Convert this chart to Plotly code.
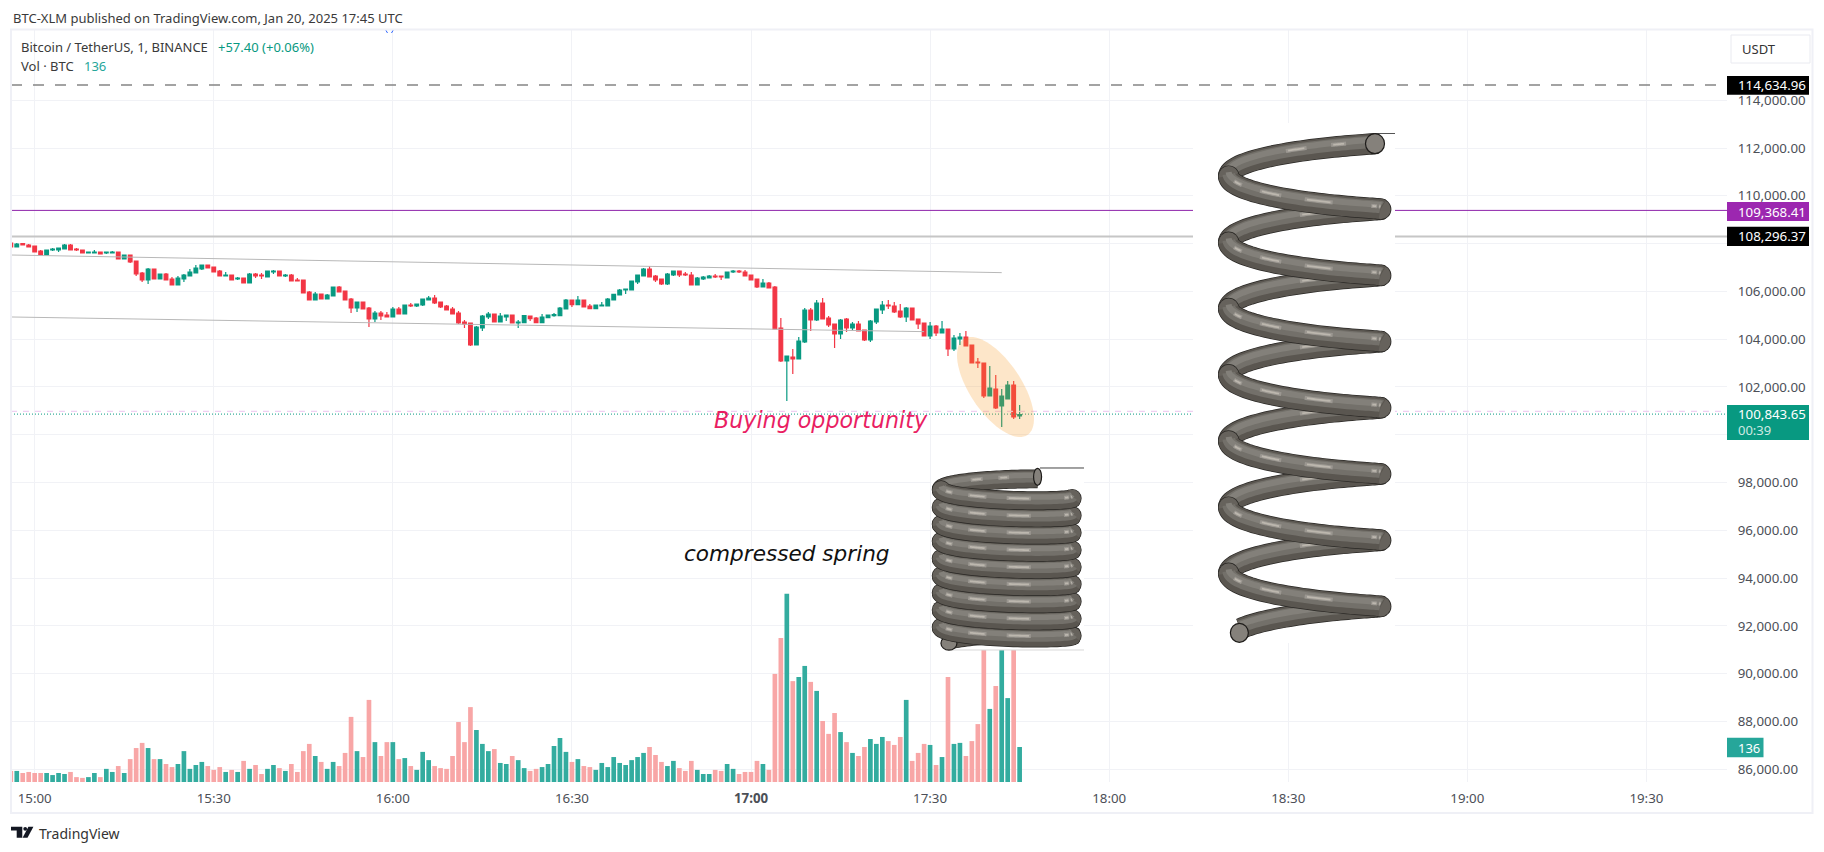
import numpy as np
import pandas as pd
import plotly.graph_objects as go

# the page puts the figure 8px in from the corner, positions below are window pixels
W, H = 1816, 844
OFFSET = 8
FONT = "Noto Sans"
GREEN = "#089981"
RED = "#f23645"
VOL_GREEN = "#33ac9f"
VOL_RED = "#f8a6a6"
GRID = "#f1f2f6"

opens = [108025, 107858, 107998, 107942, 107900, 107691, 107523, 107733, 107733, 107774,
         107942, 107774, 107733, 107607, 107607, 107649, 107607, 107607, 107649, 107356,
         107523, 107272, 106770, 106477, 106937, 106519, 106728, 106519, 106268, 106519,
         106644, 106770, 106937, 107105, 107021, 106854, 106644, 106686, 106519, 106561,
         106351, 106728, 106686, 106602, 106812, 106854, 106644, 106686, 106477, 106477,
         105975, 105640, 105891, 105682, 105807, 106184, 106017, 105682, 105305, 105556,
         105305, 104845, 105096, 105012, 104928, 105263, 105054, 105431, 105389, 105431,
         105640, 105724, 105556, 105389, 105263, 105096, 104719, 104677, 103757, 104468,
         104928, 105054, 104719, 104928, 105012, 104677, 104691, 104970, 104887, 104691,
         104901, 104984, 104984, 105263, 105640, 105445, 105640, 105389, 105277, 105389,
         105389, 105640, 105849, 106058, 106058, 106393, 106644, 106937, 106644, 106519,
         106310, 106686, 106854, 106728, 106686, 106268, 106519, 106561, 106644, 106644,
         106561, 106812, 106854, 106812, 106686, 106519, 106184, 106351, 106184, 104468,
         103087, 103254, 103171, 103882, 105221, 104803, 105514, 104887, 104635, 104217,
         104845, 104468, 104635, 104384, 103966, 104719, 105221, 105431, 105389, 105179,
         104928, 105305, 104845, 104677, 104133, 104552, 104259, 104426, 103589, 104008,
         104091, 103757, 103045, 103003, 101622, 101915, 101204, 101497, 102083, 100786.25]
highs = [108025, 108025, 108025, 107984, 107900, 107733, 107733, 107816, 107816, 107984,
         107984, 107816, 107733, 107649, 107733, 107649, 107649, 107691, 107649, 107523,
         107523, 107272, 106812, 106979, 106937, 106728, 106770, 106602, 106644, 106728,
         106937, 107105, 107105, 107105, 107021, 106895, 106812, 106686, 106602, 106561,
         106770, 106770, 106770, 106854, 106895, 106854, 106728, 106728, 106561, 106477,
         106017, 105975, 105891, 105891, 106184, 106226, 106017, 105724, 105556, 105556,
         105347, 105179, 105179, 105138, 105347, 105347, 105431, 105514, 105472, 105682,
         105807, 105849, 105556, 105431, 105347, 105179, 104803, 104677, 104552, 105012,
         105138, 105054, 105096, 105012, 105012, 104803, 105012, 104970, 104928, 105054,
         105012, 105096, 105347, 105682, 105640, 105807, 105640, 105472, 105431, 105556,
         105724, 105877, 106100, 106100, 106435, 106686, 106979, 107063, 106686, 106519,
         106770, 106854, 106854, 106812, 106812, 106602, 106644, 106686, 106728, 106644,
         106812, 106895, 106895, 106895, 106686, 106519, 106519, 106393, 106226, 104887,
         103296, 103589, 104091, 105305, 105305, 105640, 105724, 104970, 104635, 104845,
         104887, 104719, 104761, 104384, 104803, 105263, 105598, 105640, 105556, 105472,
         105347, 105305, 104845, 104677, 104719, 104593, 104761, 104426, 104175, 104259,
         104342, 103757, 103213, 103003, 102878, 102501, 101915, 102250, 102250, 101246]
lows = [107858, 107858, 107942, 107858, 107649, 107523, 107523, 107691, 107649, 107774,
        107733, 107691, 107607, 107607, 107607, 107565, 107565, 107607, 107356, 107356,
        107188, 106644, 106393, 106310, 106519, 106519, 106477, 106268, 106268, 106393,
        106644, 106770, 106895, 106979, 106812, 106644, 106644, 106477, 106477, 106351,
        106351, 106561, 106519, 106602, 106728, 106644, 106602, 106435, 106435, 105933,
        105640, 105640, 105682, 105682, 105807, 105975, 105640, 105096, 105138, 105263,
        104510, 104719, 104803, 104928, 104928, 105054, 105054, 105347, 105347, 105389,
        105640, 105472, 105305, 105221, 105054, 104635, 104468, 103715, 103757, 104342,
        104845, 104719, 104719, 104761, 104677, 104468, 104677, 104761, 104691, 104691,
        104901, 104942, 104984, 105263, 105347, 105445, 105347, 105277, 105277, 105389,
        105389, 105640, 105849, 105891, 106058, 106310, 106644, 106602, 106393, 106268,
        106268, 106644, 106602, 106644, 106268, 106268, 106477, 106561, 106561, 106477,
        106561, 106770, 106770, 106644, 106477, 106142, 106184, 106142, 104426, 103045,
        101413, 102543, 103171, 103840, 104342, 104761, 104845, 104510, 103631, 104008,
        104301, 104384, 104342, 103924, 103882, 104635, 105054, 105263, 105096, 104887,
        104719, 104803, 104426, 104133, 104008, 104133, 104259, 103296, 103506, 103757,
        103715, 103003, 102794, 101539, 101622, 101078, 100325, 101497, 100660, 100660]
closes = [107858, 107984, 107942, 107858, 107649, 107523, 107733, 107774, 107816, 107942,
          107733, 107733, 107607, 107649, 107649, 107565, 107649, 107649, 107356, 107523,
          107230, 106728, 106477, 106937, 106519, 106728, 106477, 106268, 106561, 106686,
          106812, 106979, 107105, 106979, 106812, 106644, 106686, 106477, 106561, 106351,
          106728, 106644, 106644, 106854, 106854, 106644, 106686, 106435, 106435, 105933,
          105640, 105891, 105682, 105849, 106184, 105975, 105640, 105305, 105556, 105263,
          104845, 105096, 104970, 104928, 105263, 105054, 105431, 105389, 105472, 105682,
          105724, 105514, 105347, 105221, 105054, 104677, 104635, 103757, 104510, 104970,
          105054, 104719, 104970, 105012, 104677, 104719, 104984, 104859, 104691, 104928,
          105012, 105026, 105305, 105640, 105445, 105640, 105347, 105277, 105431, 105431,
          105682, 105877, 106058, 106100, 106435, 106686, 106937, 106602, 106477, 106310,
          106728, 106854, 106686, 106686, 106268, 106561, 106602, 106644, 106602, 106602,
          106812, 106854, 106812, 106644, 106477, 106184, 106351, 106142, 104426, 103087,
          103296, 103171, 103924, 105221, 104803, 105514, 104845, 104593, 104217, 104803,
          104468, 104635, 104342, 103966, 104761, 105263, 105431, 105389, 105138, 104928,
          105305, 104803, 104635, 104133, 104552, 104259, 104426, 103589, 104050, 104091,
          103715, 103003, 103003, 101622, 101957, 101120, 101622, 102083, 100744, 100843.65]
volumes = [43, 43, 35, 39, 35, 35, 35, 27, 35, 31, 39, 19, 16, 19, 35, 19, 51, 39, 62, 35,
           89, 132, 152, 132, 89, 89, 70, 58, 70, 120, 51, 66, 78, 62, 47, 58, 39, 47, 39, 82,
           51, 66, 31, 51, 66, 54, 43, 70, 39, 120, 148, 101, 78, 51, 78, 62, 113, 253, 120, 97,
           319, 155, 101, 155, 155, 89, 93, 62, 47, 117, 85, 62, 54, 51, 101, 233, 155, 291, 202, 148,
           120, 128, 74, 70, 101, 85, 54, 43, 51, 58, 70, 140, 171, 117, 78, 89, 62, 58, 47, 74,
           58, 97, 74, 66, 85, 97, 113, 136, 105, 78, 62, 82, 54, 43, 82, 47, 31, 31, 47, 43,
           70, 51, 31, 39, 39, 82, 70, 47, 420, 560, 731, 392, 408, 451, 389, 354, 237, 187, 268, 194,
           155, 113, 101, 136, 167, 148, 175, 159, 144, 175, 319, 82, 113, 148, 144, 66, 97, 408, 148, 152,
           101, 159, 225, 530, 284, 373, 560, 326, 540, 136]

times = pd.date_range("2025-01-20 14:56", periods=len(closes), freq="min")
x_window = ["2025-01-20 14:56:02", "2025-01-20 19:43:30"]
price_window = [85468, 116939]
volume_window = [0, 2922]

tick_times = ["2025-01-20 " + t for t in
              ["15:00", "15:30", "16:00", "16:30", "17:00", "17:30", "18:00", "18:30", "19:00", "19:30"]]
tick_labels = ["15:00", "15:30", "16:00", "16:30", "<b>17:00</b>", "17:30", "18:00", "18:30", "19:00", "19:30"]
price_ticks = [86000, 88000, 90000, 92000, 94000, 96000, 98000, 100000,
               102000, 104000, 106000, 108000, 110000, 112000, 114000]
price_tick_labels = ["86,000.00", "88,000.00", "90,000.00", "92,000.00", "94,000.00", "96,000.00",
                     "98,000.00", "", "102,000.00", "104,000.00", "106,000.00", "",
                     "110,000.00", "112,000.00", "114,000.00"]

target_level = 114634.96
purple_level = 109368.41
grey_level = 108296.37
last_price = 100843.65
pink_level = 100981

upper_trend_time = ["2025-01-20 14:56", "2025-01-20 17:42"]
upper_trend_price = [107523, 106784]
lower_trend_time = ["2025-01-20 14:56", "2025-01-20 17:29"]
lower_trend_price = [104929, 104315]


def px(x):
    return (x - OFFSET) / W


def py(y):
    return 1 - (y - OFFSET) / H


shapes = []
annotations = []


def label(x, y, text, size=13, color="#333333", anchor="left", **font):
    annotations.append(dict(
        x=px(x), y=py(y), xref="paper", yref="paper", text=text, showarrow=False,
        xanchor=anchor, yanchor="middle", borderpad=0,
        font=dict(family=font.get("family", FONT), size=size, color=color,
                  style=font.get("style", "normal")),
    ))


def box(x0, y0, x1, y1, fill, line="rgba(0,0,0,0)", width=0):
    shapes.append(dict(type="rect", xref="paper", yref="paper",
                       x0=px(x0), x1=px(x1), y0=py(y0), y1=py(y1),
                       fillcolor=fill, line=dict(color=line, width=width)))


def stroke(xs, ys, color, width):
    path = "M" + " L".join(f"{px(a):.5f},{py(b):.5f}" for a, b in zip(xs, ys))
    shapes.append(dict(type="path", path=path, xref="paper", yref="paper",
                       fillcolor="rgba(0,0,0,0)", line=dict(color=color, width=width)))


def filled(xs, ys, fill):
    path = "M" + " L".join(f"{px(a):.5f},{py(b):.5f}" for a, b in zip(xs, ys)) + " Z"
    shapes.append(dict(type="path", path=path, xref="paper", yref="paper",
                       fillcolor=fill, line=dict(width=0)))


def disc(cx, cy, rx, ry, fill, line=None, width=0):
    shapes.append(dict(type="circle", xref="paper", yref="paper",
                       x0=px(cx - rx), x1=px(cx + rx), y0=py(cy + ry), y1=py(cy - ry),
                       fillcolor=fill, line=dict(color=line or fill, width=width)))


def level(price, color, width, dash="solid", nudge=0.0):
    # nudge is in screen pixels, keeps a 1px line on one pixel row
    shapes.append(dict(type="line", xref="paper", yref="y", x0=px(11), x1=px(1727),
                       ysizemode="pixel", yanchor=price, y0=nudge, y1=nudge,
                       line=dict(color=color, width=width, dash=dash)))


# one strand of a spring, theta in radians from the right hand side of the coil
def strand(sp, t0, t1, off=0.0, n=46):
    t = np.linspace(t0, t1, n)
    return (sp["cx"] + sp["r"] * np.cos(t),
            sp["y0"] + sp["pitch"] * t / (2 * np.pi) - sp["tilt"] * np.sin(t) + off)


def tube(sp, t0, t1, spots, round_ends=False):
    T = sp["thick"]
    xs, ys = strand(sp, t0, t1)
    if round_ends:
        for i in (0, -1):
            disc(xs[i], ys[i], T / 2 + 0.7, T / 2 + 0.7, "#2a2825")
    stroke(xs, ys, "#2a2825", T + 1.4)
    if round_ends:
        for i in (0, -1):
            disc(xs[i], ys[i], T / 2, T / 2, "#66625c")
    stroke(xs, ys, "#5a5650", T)
    stroke(*strand(sp, t0, t1, -T * 0.1), "#73706a", T * 0.62)
    stroke(*strand(sp, t0, t1, -T * 0.2), "#83807a", T * 0.3)
    for a, b in spots:
        seg = (t0 + a * (t1 - t0), t0 + b * (t1 - t0))
        stroke(*strand(sp, seg[0], seg[1], -T * 0.12, n=12), "#9b9791", 4)
        stroke(*strand(sp, seg[0] + 0.03, seg[1] - 0.03, -T * 0.12, n=12), "#bcb7ae", 1.8)


def end_cap(cx, cy, rx, ry):
    disc(cx, cy, rx, ry, "#85817b", "#1e1c1a", 1.2)


FRONT_SPOTS = [(0.12, 0.19), (0.3, 0.4), (0.5, 0.62), (0.84, 0.9), (0.93, 0.98)]
BACK_SPOTS = [(0.22, 0.3), (0.42, 0.52)]
TWO_PI = 2 * np.pi

# horizontal levels and trend lines
level(target_level, "#858585", 1.5, "11px,11px")
level(purple_level, "#8e24aa", 1, nudge=0.5)
level(grey_level, "#c6c6c6", 2)
level(pink_level, "#efd0f2", 1.2, "6px,6px")
level(last_price, GREEN, 1, "1px,2px", nudge=0.5)
shapes.append(dict(type="line", xref="x", yref="y", x0=upper_trend_time[0], x1=upper_trend_time[1],
                   y0=upper_trend_price[0], y1=upper_trend_price[1], line=dict(color="#b8b8b8", width=1)))
shapes.append(dict(type="line", xref="x", yref="y", x0=lower_trend_time[0], x1=lower_trend_time[1],
                   y0=lower_trend_price[0], y1=lower_trend_price[1], line=dict(color="#b8b8b8", width=1)))

# highlighted ellipse on the last candles
phi = np.deg2rad(33.7)
a_t = np.linspace(0, TWO_PI, 80)
ex = 57.6 * np.cos(a_t) * np.sin(phi) + 25.8 * np.sin(a_t) * np.cos(phi) + 995.5
ey = 57.6 * np.cos(a_t) * np.cos(phi) - 25.8 * np.sin(a_t) * np.sin(phi) + 387
filled(ex, ey, "rgba(245,150,30,0.24)")

# pasted spring pictures: white backing first
box(931.5, 467, 1084, 650, "white")
box(1193, 123, 1395, 643, "white")
stroke([1040, 1084], [468, 468], "#444444", 1)
stroke([950, 1084], [650, 650], "#d8d8d8", 1)
stroke([1375, 1395], [133.5, 133.5], "#555555", 1)

big = dict(cx=1304.7, r=76, y0=143, pitch=66.2, tilt=9, thick=20)
small = dict(cx=1006.7, r=65.5, y0=481.2, pitch=17.17, tilt=6, thick=17.5)

# small spring
start = 1.08
stop = 9 * TWO_PI + 2.65
tube(small, 9 * TWO_PI, stop, [])
end_x, end_y = strand(small, stop, stop, n=1)
end_cap(end_x[0], end_y[0] + 3, 8, 7)
tube(small, start, np.pi, BACK_SPOTS)
for k in range(8, -1, -1):
    tube(small, k * TWO_PI + np.pi, (k + 1) * TWO_PI, FRONT_SPOTS, round_ends=True)
start_x, start_y = strand(small, start, start, n=1)
end_cap(start_x[0], start_y[0] - 2, 4, 8.5)

# big spring
start = 0.39
stop = 7 * TWO_PI + 2.58
tube(big, 7 * TWO_PI, stop, BACK_SPOTS)
for k in range(6, -1, -1):
    tube(big, k * TWO_PI + (start if k == 0 else 0), k * TWO_PI + np.pi, BACK_SPOTS)
for k in range(6, -1, -1):
    tube(big, k * TWO_PI + np.pi, (k + 1) * TWO_PI, FRONT_SPOTS, round_ends=True)
start_x, start_y = strand(big, start, start, n=1)
end_cap(start_x[0], start_y[0], 9.5, 10)
end_x, end_y = strand(big, stop, stop, n=1)
end_cap(end_x[0] - 1, end_y[0] + 4, 9, 9.5)

# frame of the chart
shapes.append(dict(type="rect", xref="paper", yref="paper", x0=px(11), x1=px(1812.5),
                   y0=py(813), y1=py(29.5), line=dict(color="#eff0f6", width=2)))
# currency button
shapes.append(dict(type="rect", xref="paper", yref="paper", x0=px(1731), x1=px(1810),
                   y0=py(63), y1=py(35), fillcolor="white", line=dict(color="#e9eaf0", width=1)))

# price tags on the scale
box(1727, 76, 1809, 94.7, "#000000")
box(1727, 202, 1809, 221, "#9c27b0")
box(1727, 226.7, 1809, 246, "#000000")
box(1727, 405, 1809, 440, GREEN)
box(1727, 737.7, 1763.5, 757.3, "#26a69a")

# TradingView logo
filled([11, 22.3, 22.3, 16.7, 16.7, 11], [826.7, 826.7, 837.7, 837.7, 830.4, 830.4], "#131722")
disc(25.2, 828.8, 1.9, 1.9, "#131722")
filled([28.4, 33.4, 27.5, 22.6], [826.7, 826.7, 837.7, 837.7], "#131722")
stroke([386, 387.5], [30.5, 33], "#2962ff", 1)
stroke([393, 391.5], [30.5, 33], "#2962ff", 1)

# texts
label(12, 17.5, "BTC-XLM published on TradingView.com, Jan 20, 2025 17:45 UTC", 13, "#3a3a3a")
label(20, 47, "Bitcoin / TetherUS, 1, BINANCE", 13, "#3a3a3a")
label(217, 47, "+57.40 (+0.06%)", 13, GREEN)
label(20, 66, "Vol · BTC", 13, "#3a3a3a")
label(83, 66, "136", 13, "#26a69a")
label(1741, 49, "USDT", 13, "#333333")
label(1737, 85, "114,634.96", 13.3, "white")
label(1737, 211.5, "109,368.41", 13.3, "white")
label(1737, 236, "108,296.37", 13.3, "white")
label(1737, 413.5, "100,843.65", 13.3, "white")
label(1737, 429.5, "00:39", 13, "#cfe9e3")
label(1737, 747.5, "136", 13, "white")
label(38, 833, "TradingView", 14, "#333333")
label(713, 420, "Buying opportunity", 22.2, "#e91e63", family="DejaVu Sans", style="italic")
label(683, 553, "compressed spring", 21.6, "#111111", family="DejaVu Sans", style="italic")

fig = go.Figure()
fig.add_trace(go.Candlestick(
    x=times, open=opens, high=highs, low=lows, close=closes,
    increasing=dict(line=dict(color=GREEN, width=1.2), fillcolor=GREEN),
    decreasing=dict(line=dict(color=RED, width=1.2), fillcolor=RED),
    whiskerwidth=0, hoverinfo="skip", showlegend=False,
))
fig.add_trace(go.Bar(
    x=times, y=volumes, yaxis="y2", width=47000,
    marker=dict(color=[VOL_GREEN if c >= o else VOL_RED for o, c in zip(opens, closes)], line=dict(width=0)),
    hoverinfo="skip", showlegend=False,
))

fig.update_layout(
    width=W, height=H, autosize=False, margin=dict(l=0, r=0, t=0, b=0),
    paper_bgcolor="white", plot_bgcolor="white", boxgap=0.12, showlegend=False,
    font=dict(family=FONT, size=13.3, color="#4c4f57"),
    xaxis=dict(
        domain=[px(11), px(1727)], range=x_window, type="date", rangeslider=dict(visible=False),
        tickmode="array", tickvals=tick_times, ticktext=tick_labels, ticks="outside", ticklen=4,
        tickcolor="white", showgrid=True, gridcolor=GRID, gridwidth=1, showline=False, zeroline=False,
    ),
    yaxis=dict(
        domain=[py(782), py(30)], range=price_window, side="right", tickmode="array",
        tickvals=price_ticks, ticktext=price_tick_labels, ticks="outside", ticklen=7, tickcolor="white",
        showgrid=True, gridcolor=GRID, gridwidth=1, showline=False, zeroline=False,
    ),
    yaxis2=dict(range=volume_window, overlaying="y", side="right", visible=False, showgrid=False),
    shapes=shapes, annotations=annotations,
)

fig.write_html("out.html")
